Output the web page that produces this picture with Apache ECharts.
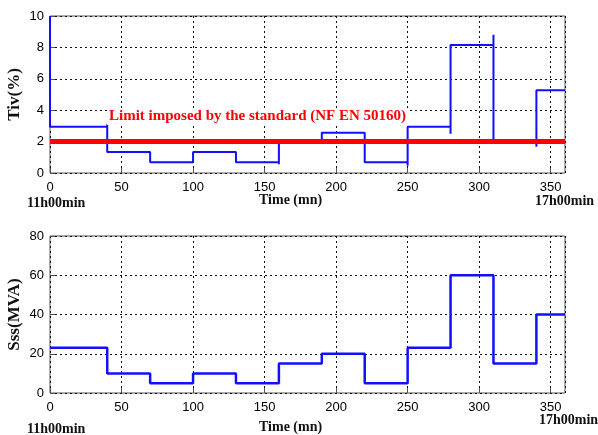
<!DOCTYPE html>
<html>
<head>
<meta charset="utf-8">
<script src="https://cdn.jsdelivr.net/npm/echarts@6/dist/echarts.min.js"></script>
<style>
  html, body { margin: 0; padding: 0; background: #fff; }
  #chart { width: 598px; height: 435px; }
</style>
</head>
<body>
<div id="chart"></div>
<script>
// switching instants (mn), last one is the end of the window
const times = [0, 40, 70, 100, 130, 160, 190, 220, 250, 280, 310, 340, 360];
// Tiv (%) level for each interval
const tivLevels = [2.95, 1.33, 0.68, 1.33, 0.68, 2.0, 2.56, 0.68, 2.95, 8.15, 2.0, 5.27];
// transient value seen at each switching instant (null = none)
const tivSpikes = [10, 3.1, null, null, null, 0.55, 1.84, null, 0.46, 2.5, 8.8, 1.67];
// Sss (MVA) level for each interval
const sssLevels = [23, 10, 5, 10, 5, 15, 20, 5, 23, 60, 15, 40];
const limitValue = 2;

const serif = '"Liberation Serif", "Times New Roman", serif';
const sans = '"Liberation Sans", Arial, sans-serif';

function stepPoints(levels, spikes) {
  const pts = [];
  levels.forEach((v, i) => {
    if (spikes && spikes[i] != null) pts.push([times[i], spikes[i]]);
    pts.push([times[i], v]);
    pts.push([times[i + 1], v]);
  });
  return pts;
}

const chart = echarts.init(document.getElementById('chart'));

const gridLine = { show: true, lineStyle: { color: '#111', type: [2, 3], width: 1 } };
const tick = { show: true, inside: true, length: 5, lineStyle: { color: '#555' } };

function xAxis(gridIndex) {
  return {
    type: 'value', gridIndex, min: 0, max: 360, interval: 50,
    axisLine: { show: false },
    axisTick: tick,
    splitLine: gridLine,
    axisLabel: {
      color: '#000', fontSize: 13, fontFamily: sans, margin: 8,
      showMaxLabel: false
    }
  };
}

function yAxis(gridIndex, max, interval, name) {
  return {
    type: 'value', gridIndex, min: 0, max, interval,
    name, nameLocation: 'middle', nameGap: 27, nameMoveOverlap: false,
    nameTextStyle: { fontFamily: serif, fontWeight: 'bold', fontSize: 17, color: '#111' },
    axisLine: { show: false },
    axisTick: tick,
    splitLine: gridLine,
    axisLabel: { color: '#000', fontSize: 13, fontFamily: sans, margin: 6 }
  };
}

const boldSerif = 'bold 14px ' + serif;

chart.setOption({
  animation: false,
  backgroundColor: '#fff',
  grid: [
    { left: 50, top: 16, width: 515, height: 157, show: true, borderColor: '#555', borderWidth: 1,
      containLabel: false, outerBoundsMode: 'none' },
    { left: 50, top: 236, width: 515, height: 157, show: true, borderColor: '#555', borderWidth: 1,
      containLabel: false, outerBoundsMode: 'none' }
  ],
  xAxis: [xAxis(0), xAxis(1)],
  yAxis: [yAxis(0, 10, 2, 'Tiv(%)'), yAxis(1, 80, 20, 'Sss(MVA)')],
  series: [
    {
      type: 'line', xAxisIndex: 0, yAxisIndex: 0,
      data: stepPoints(tivLevels, tivSpikes),
      showSymbol: false,
      lineStyle: { color: '#1010ff', width: 2 },
      z: 2
    },
    {
      type: 'line', xAxisIndex: 0, yAxisIndex: 0,
      data: [[times[0], limitValue], [times[times.length - 1], limitValue]],
      showSymbol: false,
      lineStyle: { color: '#ff0000', width: 5 },
      z: 3
    },
    {
      type: 'line', xAxisIndex: 1, yAxisIndex: 1,
      data: stepPoints(sssLevels, null),
      showSymbol: false,
      lineStyle: { color: '#1010ff', width: 2.5 },
      z: 2
    }
  ],
  graphic: [
    {
      type: 'text', left: 107, top: 108, z: 10,
      style: {
        text: 'Limit imposed by the standard (NF EN 50160)',
        font: 'bold 15px ' + serif, fill: '#ff0000',
        backgroundColor: '#fff', padding: [1, 2]
      }
    },
    { type: 'text', left: 27, top: 196, style: { text: '11h00min', font: boldSerif, fill: '#111' } },
    { type: 'text', left: 259, top: 193, style: { text: 'Time (mn)', font: boldSerif, fill: '#111' } },
    { type: 'text', left: 535, top: 194, style: { text: '17h00min', font: boldSerif, fill: '#111' } },
    { type: 'text', left: 27, top: 422, style: { text: '11h00min', font: boldSerif, fill: '#111' } },
    { type: 'text', left: 259, top: 420, style: { text: 'Time (mn)', font: boldSerif, fill: '#111' } },
    { type: 'text', left: 539, top: 413, style: { text: '17h00min', font: boldSerif, fill: '#111' } }
  ]
});
</script>
</body>
</html>
